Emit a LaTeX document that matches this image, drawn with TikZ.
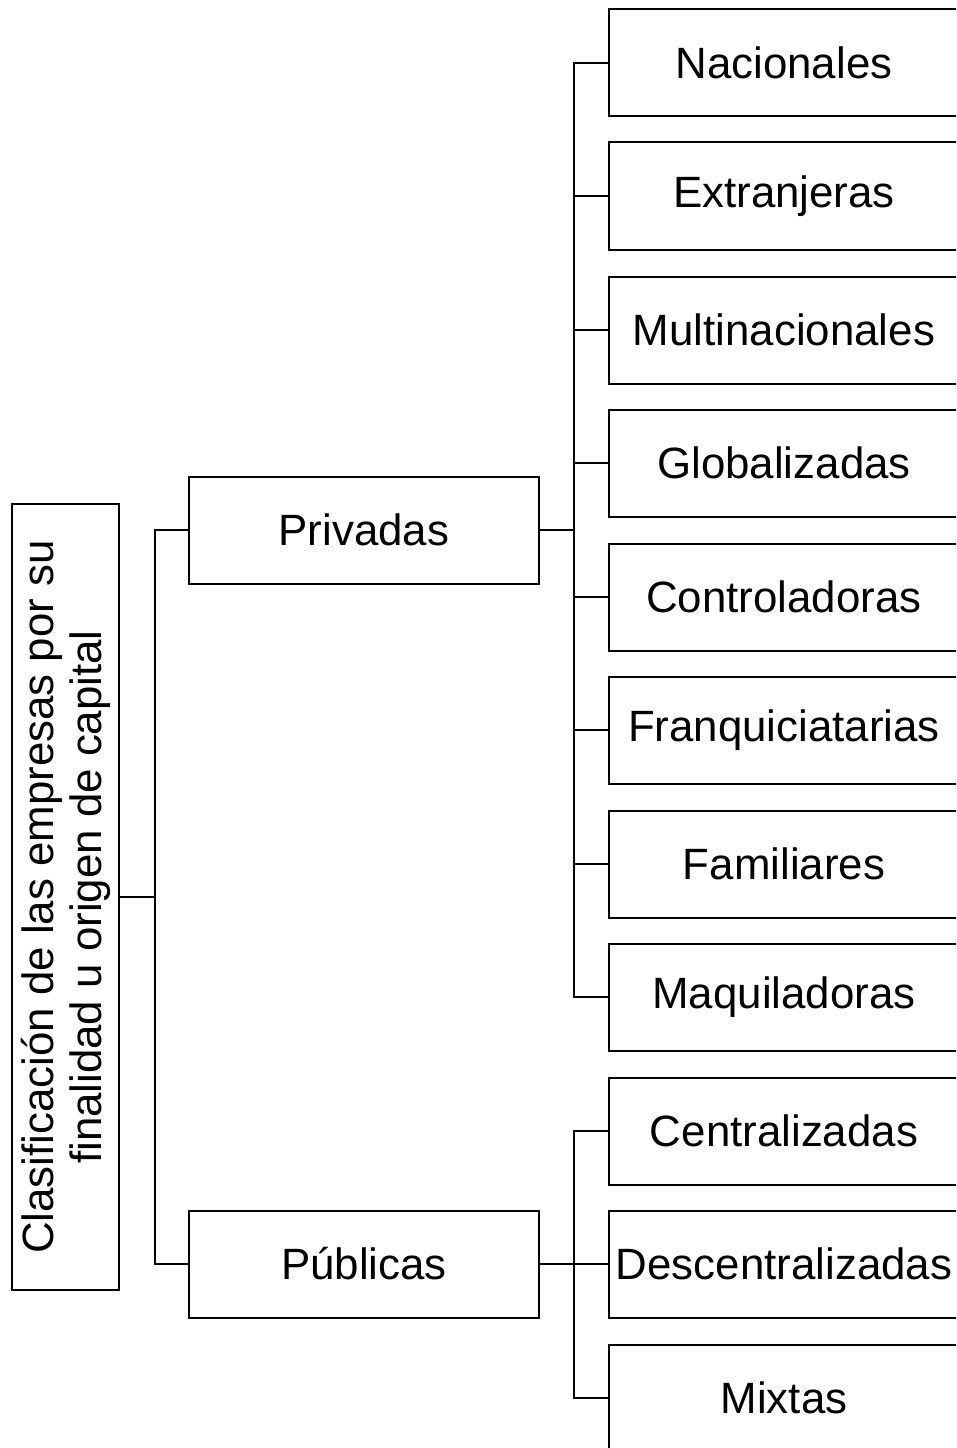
\documentclass[tikz,border=0pt]{standalone}
\usepackage{fontspec}
\setmainfont{Liberation Sans}
\begin{document}
\begin{tikzpicture}[x=1bp,y=-1bp,
  box/.style={draw,line width=2bp,minimum width=350bp,minimum height=107bp,inner sep=0pt,
    font=\fontsize{44}{50}\selectfont},
  link/.style={line width=2bp}]
\useasboundingbox (0,0) rectangle (956,1448);
\clip (0,0) rectangle (956,1448);
\node[draw,line width=2bp,rotate=90,minimum width=786bp,minimum height=107bp,inner sep=0pt,
  align=center,font=\fontsize{44}{48}\selectfont] (main) at (65.5,897)
  {Clasificación de las empresas por su\\finalidad u origen de capital};
\node[box] (priv) at (364,530) {Privadas};
\node[box] (pub) at (364,1264) {Públicas};
\node[box] (nac) at (784,63) {Nacionales};
\node[box] (ext) at (784,196) {Extranjeras};
\node[box] (mul) at (784,330) {Multinacionales};
\node[box] (glo) at (784,463) {Globalizadas};
\node[box] (con) at (784,597) {Controladoras};
\node[box] (fra) at (784,730) {Franquiciatarias};
\node[box] (fam) at (784,864) {Familiares};
\node[box] (maq) at (784,997) {Maquiladoras};
\node[box] (cen) at (784,1131) {Centralizadas};
\node[box] (des) at (784,1264) {Descentralizadas};
\node[box] (mix) at (784,1398) {Mixtas};
\coordinate (j0) at (155,897);
\coordinate (j1) at (574,530);
\coordinate (j2) at (574,1264);
\draw[link] (main.south) -- (j0);
\draw[link] (j0) |- (priv.west);
\draw[link] (j0) |- (pub.west);
\draw[link] (priv.east) -- (j1);
\foreach \n in {nac,ext,mul,glo,con,fra,fam,maq} \draw[link] (j1) |- (\n.west);
\draw[link] (pub.east) -- (des.west);
\draw[link] (j2) |- (cen.west);
\draw[link] (j2) |- (mix.west);
\end{tikzpicture}
\end{document}
